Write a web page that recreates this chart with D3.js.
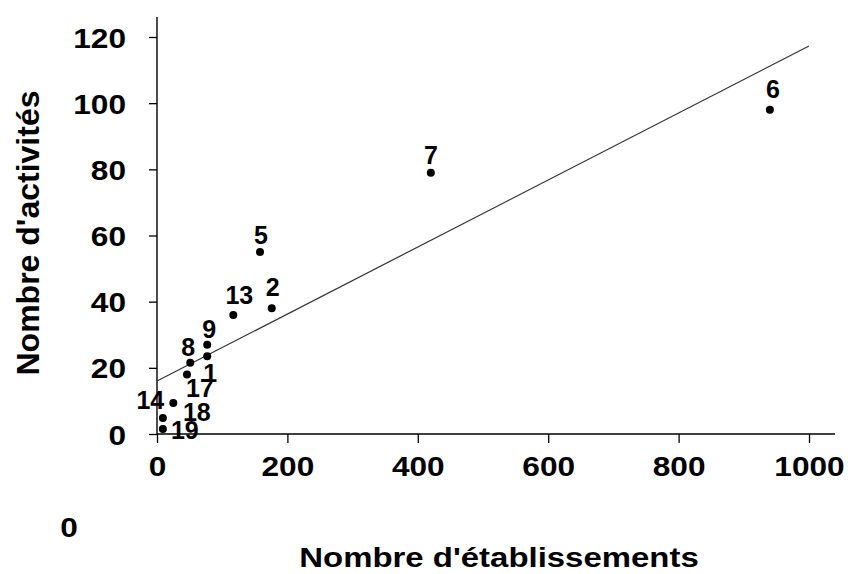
<!DOCTYPE html>
<html>
<head>
<meta charset="utf-8">
<script src="https://cdn.jsdelivr.net/npm/d3@7"></script>
<style>
  body { margin: 0; background: #fff; }
  svg text { font-family: "Liberation Sans", Arial, sans-serif; font-weight: bold; fill: #000; }
</style>
</head>
<body>
<div id="chart"></div>
<script>
// values
const pointLabels = ["6", "7", "5", "2", "13", "9", "1", "8", "17", "14", "18", "19"];
const etablissements = [940, 420, 158, 176, 117, 77, 77, 51, 46, 25, 9, 9];
const activites = [98, 79, 55, 38, 36, 27, 23.5, 21.5, 18, 9.4, 4.8, 1.5];
const xTicks = [0, 200, 400, 600, 800, 1000];
const yTicks = [0, 20, 40, 60, 80, 100, 120];
const trendX = [0, 1000];
const trendY = [16, 117.3];

// label placement next to each dot
const labelOffset = {
  "6": [3, -12], "7": [0, -9], "5": [1, -8], "2": [1, -12], "13": [6, -11],
  "9": [2, -7], "1": [3, 26], "8": [-2, -7], "17": [13, 23], "14": [-23, 6],
  "18": [34, 3], "19": [22, 10]
};

const width = 852, height = 574;
const svg = d3.select("#chart").append("svg").attr("width", width).attr("height", height);

const x = d3.scaleLinear().domain([0, 1000]).range([157, 809]);
const y = d3.scaleLinear().domain([0, 120]).range([434, 37]);
const stretch = 1.13;

// axes
const xAxis = svg.append("g")
  .attr("transform", `translate(0,${y(0)})`)
  .call(d3.axisBottom(x).tickValues(xTicks).tickFormat(d3.format("d"))
    .tickSize(9).tickSizeOuter(0).tickPadding(13));
xAxis.select(".domain").remove();
xAxis.selectAll("line").attr("stroke", "#000").attr("stroke-width", 1.3);
xAxis.selectAll("text")
  .attr("font-size", 28).attr("transform", `scale(${stretch},1)`);

const yAxis = svg.append("g")
  .attr("transform", `translate(${x(0)},0)`)
  .call(d3.axisLeft(y).tickValues(yTicks).tickFormat(d3.format("d")).tickSize(8).tickSizeOuter(0));
yAxis.select(".domain").remove();
yAxis.selectAll("line").attr("stroke", "#000").attr("stroke-width", 1.3);
yAxis.selectAll("text")
  .attr("font-size", 28).attr("x", -31 / stretch).attr("dy", "0.36em")
  .attr("transform", `scale(${stretch},1)`);

// axis lines
svg.append("line")
  .attr("x1", x(0)).attr("x2", 835).attr("y1", y(0)).attr("y2", y(0))
  .attr("stroke", "#000").attr("stroke-width", 1.4);
svg.append("line")
  .attr("x1", x(0)).attr("x2", x(0)).attr("y1", y(0)).attr("y2", 17)
  .attr("stroke", "#000").attr("stroke-width", 1.4);

// stray zero under the axis
svg.append("text")
  .attr("transform", `translate(69,537) scale(${stretch},1)`)
  .attr("text-anchor", "middle").attr("font-size", 28)
  .text("0");

// axis titles
svg.append("text")
  .attr("transform", `translate(499,567) scale(1.22,1)`)
  .attr("text-anchor", "middle").attr("font-size", 27)
  .text("Nombre d'établissements");
svg.append("text")
  .attr("transform", `translate(39,233) rotate(-90)`)
  .attr("text-anchor", "middle").attr("font-size", 32)
  .text("Nombre d'activités");

// trend line
svg.append("line")
  .attr("x1", x(trendX[0])).attr("y1", y(trendY[0]))
  .attr("x2", x(trendX[1])).attr("y2", y(trendY[1]))
  .attr("stroke", "#333").attr("stroke-width", 1.2);

// points
const pts = pointLabels.map((l, i) => ({ label: l, ex: etablissements[i], ac: activites[i] }));
svg.selectAll(".dot")
  .data(pts)
  .enter().append("circle")
  .attr("class", "dot")
  .attr("cx", d => x(d.ex))
  .attr("cy", d => y(d.ac))
  .attr("r", 4)
  .attr("fill", "#000");

svg.selectAll(".plabel")
  .data(pts)
  .enter().append("text")
  .attr("class", "plabel")
  .attr("x", d => x(d.ex) + labelOffset[d.label][0])
  .attr("y", d => y(d.ac) + labelOffset[d.label][1])
  .attr("text-anchor", "middle")
  .attr("font-size", 25)
  .text(d => d.label);
</script>
</body>
</html>
